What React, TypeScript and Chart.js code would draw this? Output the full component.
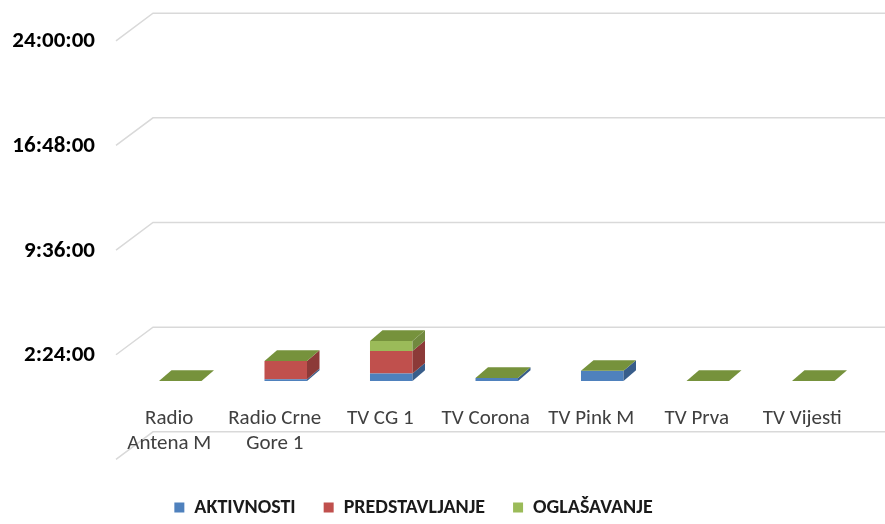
import { useEffect, useRef } from 'react';
import { Chart, registerables } from 'chart.js';

Chart.register(...registerables);

// ---- data (hours) ----
const categories: (string | string[])[] = [
  ['Radio', 'Antena M'],
  ['Radio Crne', 'Gore 1'],
  'TV CG 1',
  'TV Corona',
  'TV Pink M',
  'TV Prva',
  'TV Vijesti',
];
const seriesNames = ['AKTIVNOSTI', 'PREDSTAVLJANJE', 'OGLAŠAVANJE'];
const aktivnosti = [0, 0.12, 0.51, 0.21, 0.7, 0, 0];
const predstavljanje = [0, 1.26, 1.55, 0, 0, 0, 0];
const oglasavanje = [0, 0, 0.69, 0, 0, 0, 0];
const yMin = -4.8;
const yMax = 24;
const yStep = 7.2;

// ---- styles ----
const frontColors = ['#4F81BD', '#C0504D', '#9BBB59'];
const sideColors = ['#385D8A', '#8C3A38', '#71893F'];
const topColor = '#76923C';
const FONT = 'Carlito, Calibri, Lato, sans-serif';

const BAR_DX = 12.5;
const BAR_DY = -10.7;
const GRID_FRONT_DX = -11.5;
const GRID_FRONT_DY = 8.6;
const GRID_BACK_DX = 25.5;
const GRID_BACK_DY = -19;

function fmtTime(v: number): string {
  const mins = Math.round(v * 60);
  const h = Math.floor(mins / 60);
  const m = mins % 60;
  return `${h}:${m < 10 ? '0' + m : m}:00`;
}

const depthPlugin = {
  id: 'depth3d',
  afterLayout(chart: any) {
    const lg = chart.legend;
    if (lg) {
      lg.left -= 24.5;
      lg.right -= 24.5;
      lg.top += 3.5;
      lg.bottom += 3.5;
    }
  },
  beforeDraw(chart: any) {
    const ctx = chart.ctx;
    const area = chart.chartArea;
    const ys = chart.scales.y;
    ctx.save();
    ctx.strokeStyle = '#d9d9d9';
    ctx.lineWidth = 1.5;
    ys.ticks.forEach((t: any) => {
      const yb = ys.getPixelForValue(t.value);
      ctx.beginPath();
      ctx.moveTo(area.left + GRID_FRONT_DX, yb + GRID_FRONT_DY);
      ctx.lineTo(area.left + GRID_BACK_DX, yb + GRID_BACK_DY);
      ctx.lineTo(chart.width, yb + GRID_BACK_DY);
      ctx.stroke();
    });
    ctx.restore();
  },
  afterDatasetsDraw(chart: any) {
    const ctx = chart.ctx;
    ctx.save();
    const n = chart.data.labels.length;
    const tops: { left: number; right: number; top: number }[] = [];
    chart.data.datasets.forEach((ds: any, i: number) => {
      const meta = chart.getDatasetMeta(i);
      meta.data.forEach((el: any, j: number) => {
        const p = el.getProps(['x', 'y', 'base', 'width'], true);
        const left = p.x - p.width / 2;
        const right = p.x + p.width / 2;
        const top = Math.min(p.y, p.base);
        const bot = Math.max(p.y, p.base);
        if (bot - top > 0.05) {
          ctx.fillStyle = sideColors[i];
          ctx.beginPath();
          ctx.moveTo(right, top);
          ctx.lineTo(right + BAR_DX, top + BAR_DY);
          ctx.lineTo(right + BAR_DX, bot + BAR_DY);
          ctx.lineTo(right, bot);
          ctx.closePath();
          ctx.fill();
        }
        if (!tops[j] || top < tops[j].top) tops[j] = { left, right, top };
      });
    });
    for (let j = 0; j < n; j++) {
      const t = tops[j];
      if (!t) continue;
      ctx.fillStyle = topColor;
      ctx.beginPath();
      ctx.moveTo(t.left, t.top);
      ctx.lineTo(t.left + BAR_DX, t.top + BAR_DY);
      ctx.lineTo(t.right + BAR_DX, t.top + BAR_DY);
      ctx.lineTo(t.right, t.top);
      ctx.closePath();
      ctx.fill();
    }
    ctx.restore();
  },
};

export default function App() {
  const ref = useRef<HTMLCanvasElement | null>(null);

  useEffect(() => {
    document.body.style.margin = '0';
    if (!ref.current) return;
    const seriesData = [aktivnosti, predstavljanje, oglasavanje];
    const chart = new Chart(ref.current, {
      type: 'bar',
      data: {
        labels: categories as any,
        datasets: seriesNames.map((name, i) => ({
          label: name,
          data: seriesData[i],
          backgroundColor: frontColors[i],
          borderWidth: 0,
          barPercentage: 0.403,
          categoryPercentage: 1,
        })),
      },
      options: {
        animation: false,
        responsive: false,
        maintainAspectRatio: false,
        layout: { padding: { top: 32.2, left: 10, right: 19, bottom: 0 } },
        plugins: {
          tooltip: { enabled: false },
          legend: {
            position: 'bottom',
            labels: {
              boxWidth: 10,
              boxHeight: 10,
              padding: 28,
              color: '#1a1a1a',
              font: { family: FONT, size: 20, weight: 'bold' },
            },
          },
        },
        scales: {
          x: {
            stacked: true,
            grid: { display: false, drawTicks: false },
            border: { display: false },
            ticks: {
              autoSkip: false,
              mirror: true,
              maxRotation: 0,
              minRotation: 0,
              padding: 20,
              labelOffset: -11,
              color: '#404040',
              font: { family: FONT, size: 21, lineHeight: '25px' },
            },
            afterFit: (s: any) => {
              s.height = 15.2;
              s.paddingLeft = 0;
              s.paddingRight = 0;
              s.paddingTop = 0;
              s.paddingBottom = 0;
            },
          },
          y: {
            stacked: true,
            min: yMin,
            max: yMax,
            grid: { display: false, drawTicks: false },
            border: { display: false },
            ticks: {
              stepSize: yStep,
              padding: 32.5,
              labelOffset: 9.5,
              color: '#000000',
              font: { family: FONT, size: 23, weight: 'bold', lineHeight: 1.2 },
              callback: (v: any) => (Number(v) < 0 ? '' : fmtTime(Number(v))),
            },
            afterFit: (s: any) => {
              s.width = 117.5;
              s.paddingTop = 0;
              s.paddingBottom = 0;
            },
          },
        },
      },
      plugins: [depthPlugin],
    });
    return () => chart.destroy();
  }, []);

  return (
    <div style={{ width: 885, height: 524 }}>
      <canvas ref={ref} width={885} height={524} />
    </div>
  );
}
